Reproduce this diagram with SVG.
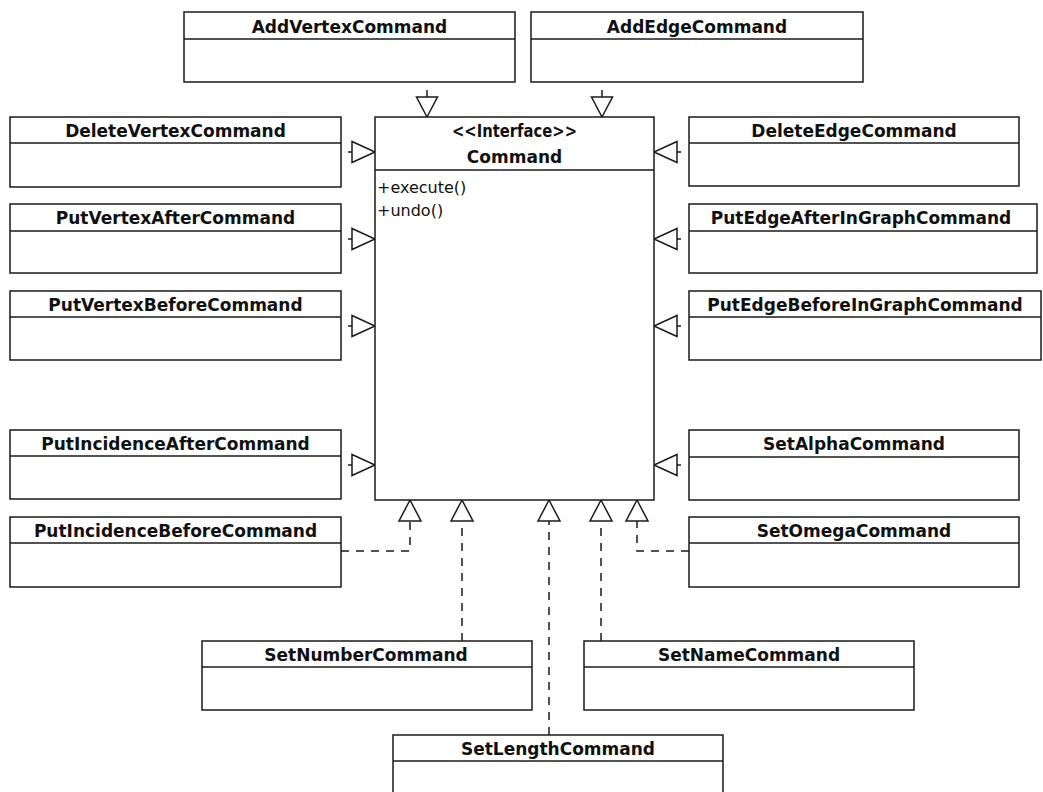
<svg xmlns="http://www.w3.org/2000/svg" width="1043" height="792" viewBox="0 0 1043 792">
<style>
.box{fill:#fff;stroke:#1a1a1a;stroke-width:1.5}
.div{stroke:#1a1a1a;stroke-width:1.5}
.t{font-family:"DejaVu Sans",Verdana,sans-serif;font-weight:bold;font-size:17px;fill:#111;text-anchor:middle}
.op{font-family:"DejaVu Sans",Verdana,sans-serif;font-size:16px;fill:#111}
.ln{stroke:#1a1a1a;stroke-width:1.5;fill:none}
.dash{stroke:#1a1a1a;stroke-width:1.5;fill:none;stroke-dasharray:8,7}
.tri{fill:#fff;stroke:#1a1a1a;stroke-width:1.5}
</style>
<rect width="1043" height="792" fill="#fff"/>

<g id="connectors">
  <!-- top -->
  <line class="ln" x1="427" y1="90" x2="427" y2="97"/>
  <polygon class="tri" points="416.5,97 437.5,97 427,117"/>
  <line class="ln" x1="602" y1="90" x2="602" y2="97"/>
  <polygon class="tri" points="591.5,97 612.5,97 602,117"/>
  <!-- left -->
  <line class="ln" x1="348" y1="152" x2="352" y2="152"/>
  <polygon class="tri" points="352,141.5 352,162.5 375,152"/>
  <line class="ln" x1="348" y1="239" x2="352" y2="239"/>
  <polygon class="tri" points="352,228.5 352,249.5 375,239"/>
  <line class="ln" x1="348" y1="326" x2="352" y2="326"/>
  <polygon class="tri" points="352,315.5 352,336.5 375,326"/>
  <line class="ln" x1="348" y1="465" x2="352" y2="465"/>
  <polygon class="tri" points="352,454.5 352,475.5 375,465"/>
  <!-- right -->
  <line class="ln" x1="677" y1="152" x2="681" y2="152"/>
  <polygon class="tri" points="677,141.5 677,162.5 654,152"/>
  <line class="ln" x1="677" y1="239" x2="681" y2="239"/>
  <polygon class="tri" points="677,228.5 677,249.5 654,239"/>
  <line class="ln" x1="677" y1="326" x2="681" y2="326"/>
  <polygon class="tri" points="677,315.5 677,336.5 654,326"/>
  <line class="ln" x1="677" y1="465" x2="681" y2="465"/>
  <polygon class="tri" points="677,454.5 677,475.5 654,465"/>
  <!-- bottom (dashed) -->
  <path class="dash" d="M341,551 H410 V521"/>
  <polygon class="tri" points="399,521 421,521 410,500"/>
  <path class="dash" d="M462,641 V521"/>
  <polygon class="tri" points="451,521 473,521 462,500"/>
  <path class="dash" d="M549,735 V521"/>
  <polygon class="tri" points="538,521 560,521 549,500"/>
  <path class="dash" d="M601,641 V521"/>
  <polygon class="tri" points="590,521 612,521 601,500"/>
  <path class="dash" d="M689,551 H637 V521"/>
  <polygon class="tri" points="626,521 648,521 637,500"/>
</g>

<g id="Command">
  <rect class="box" x="375" y="117" width="279" height="383"/>
  <line class="div" x1="375" y1="170" x2="654" y2="170"/>
  <text class="t" x="514.5" y="137" textLength="125" lengthAdjust="spacingAndGlyphs">&lt;&lt;Interface&gt;&gt;</text>
  <text class="t" x="514.5" y="163">Command</text>
  <text class="op" x="377" y="193">+execute()</text>
  <text class="op" x="377" y="216">+undo()</text>
</g>

<g id="AddVertexCommand">
  <rect class="box" x="184" y="12" width="331" height="70"/>
  <line class="div" x1="184" y1="39" x2="515" y2="39"/>
  <text class="t" x="349.5" y="33">AddVertexCommand</text>
</g>
<g id="AddEdgeCommand">
  <rect class="box" x="531" y="12" width="332" height="70"/>
  <line class="div" x1="531" y1="39" x2="863" y2="39"/>
  <text class="t" x="697" y="33">AddEdgeCommand</text>
</g>

<g id="DeleteVertexCommand">
  <rect class="box" x="10" y="117" width="331" height="70"/>
  <line class="div" x1="10" y1="143" x2="341" y2="143"/>
  <text class="t" x="175.5" y="137">DeleteVertexCommand</text>
</g>
<g id="PutVertexAfterCommand">
  <rect class="box" x="10" y="204" width="331" height="69"/>
  <line class="div" x1="10" y1="231" x2="341" y2="231"/>
  <text class="t" x="175.5" y="224">PutVertexAfterCommand</text>
</g>
<g id="PutVertexBeforeCommand">
  <rect class="box" x="10" y="291" width="331" height="69"/>
  <line class="div" x1="10" y1="317" x2="341" y2="317"/>
  <text class="t" x="175.5" y="311">PutVertexBeforeCommand</text>
</g>
<g id="PutIncidenceAfterCommand">
  <rect class="box" x="10" y="430" width="331" height="69"/>
  <line class="div" x1="10" y1="456" x2="341" y2="456"/>
  <text class="t" x="175.5" y="450">PutIncidenceAfterCommand</text>
</g>
<g id="PutIncidenceBeforeCommand">
  <rect class="box" x="10" y="517" width="331" height="70"/>
  <line class="div" x1="10" y1="543" x2="341" y2="543"/>
  <text class="t" x="175.5" y="537">PutIncidenceBeforeCommand</text>
</g>

<g id="DeleteEdgeCommand">
  <rect class="box" x="689" y="117" width="330" height="69"/>
  <line class="div" x1="689" y1="143" x2="1019" y2="143"/>
  <text class="t" x="854" y="137">DeleteEdgeCommand</text>
</g>
<g id="PutEdgeAfterInGraphCommand">
  <rect class="box" x="689" y="204" width="348" height="69"/>
  <line class="div" x1="689" y1="231" x2="1037" y2="231"/>
  <text class="t" x="861" y="224">PutEdgeAfterInGraphCommand</text>
</g>
<g id="PutEdgeBeforeInGraphCommand">
  <rect class="box" x="689" y="291" width="352" height="69"/>
  <line class="div" x1="689" y1="317" x2="1041" y2="317"/>
  <text class="t" x="865" y="311">PutEdgeBeforeInGraphCommand</text>
</g>
<g id="SetAlphaCommand">
  <rect class="box" x="689" y="430" width="330" height="70"/>
  <line class="div" x1="689" y1="457" x2="1019" y2="457"/>
  <text class="t" x="854" y="450">SetAlphaCommand</text>
</g>
<g id="SetOmegaCommand">
  <rect class="box" x="689" y="517" width="330" height="70"/>
  <line class="div" x1="689" y1="543" x2="1019" y2="543"/>
  <text class="t" x="854" y="537">SetOmegaCommand</text>
</g>

<g id="SetNumberCommand">
  <rect class="box" x="202" y="641" width="330" height="69"/>
  <line class="div" x1="202" y1="667" x2="532" y2="667"/>
  <text class="t" x="366" y="661">SetNumberCommand</text>
</g>
<g id="SetNameCommand">
  <rect class="box" x="584" y="641" width="330" height="69"/>
  <line class="div" x1="584" y1="667" x2="914" y2="667"/>
  <text class="t" x="749" y="661">SetNameCommand</text>
</g>
<g id="SetLengthCommand">
  <rect class="box" x="393" y="735" width="330" height="70"/>
  <line class="div" x1="393" y1="761" x2="723" y2="761"/>
  <text class="t" x="558" y="755">SetLengthCommand</text>
</g>
</svg>
